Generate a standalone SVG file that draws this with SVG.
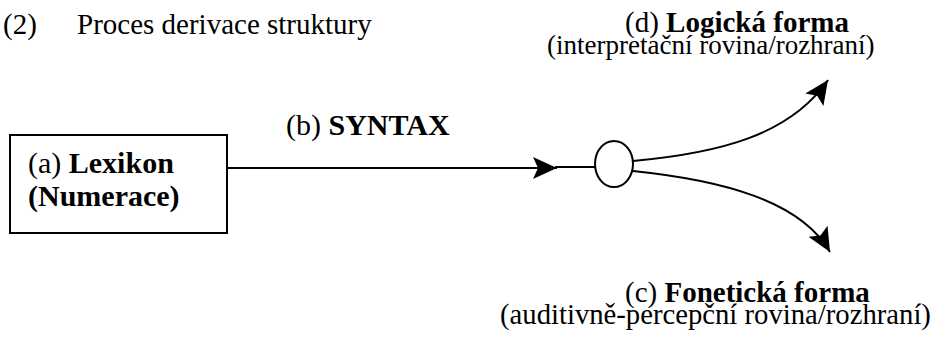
<svg xmlns="http://www.w3.org/2000/svg" width="933" height="340" viewBox="0 0 933 340">
<defs>
<style>
text{font-family:"Liberation Serif","Times New Roman",serif;font-size:29px;fill:#000}
.b{font-weight:bold}
.big{font-size:30px}
.sm{font-size:27px}
.ln{fill:none;stroke:#000;stroke-width:2}
</style>
<marker id="ah" markerUnits="userSpaceOnUse" markerWidth="26" markerHeight="24" refX="24" refY="11" orient="auto">
<path d="M0,0 L24,11 L0,22 L5,11 z" fill="#000"/>
</marker>
</defs>
<rect width="933" height="340" fill="#fff"/>
<g id="title">
<text x="3" y="34">(2)</text>
<text x="77" y="34">Proces derivace struktury</text>
</g>
<g id="lexikon">
<rect x="10" y="135" width="217" height="98" fill="#fff" stroke="#000" stroke-width="2"/>
<text x="28" y="173" class="big">(a) <tspan class="b">Lexikon</tspan></text>
<text x="28" y="206" class="big b">(Numerace)</text>
</g>
<g id="syntax">
<text x="286" y="135" class="big">(b) <tspan class="b">SYNTAX</tspan></text>
</g>
<g id="node">
<ellipse cx="614" cy="164" rx="19" ry="23" fill="#fff" stroke="#000" stroke-width="2"/>
</g>
<g id="lf">
<text x="625" y="32">(d) <tspan class="b">Logická forma</tspan></text>
<text x="547" y="54" class="sm">(interpretační rovina/rozhraní)</text>
</g>
<g id="pf">
<text x="625" y="302">(c) <tspan class="b">Fonetická forma</tspan></text>
<text x="500" y="324" style="font-size:28.7px">(auditivně-percepční rovina/rozhraní)</text>
</g>
<g id="connectors">
<path class="ln" d="M228,168 L557,168" marker-end="url(#ah)"/>
<path class="ln" d="M555,167 L595,167"/>
<path class="ln" d="M633,161 C720,153 790,135 828,80" marker-end="url(#ah)"/>
<path class="ln" d="M633,171 C720,180 800,200 830,252" marker-end="url(#ah)"/>
</g>
</svg>
